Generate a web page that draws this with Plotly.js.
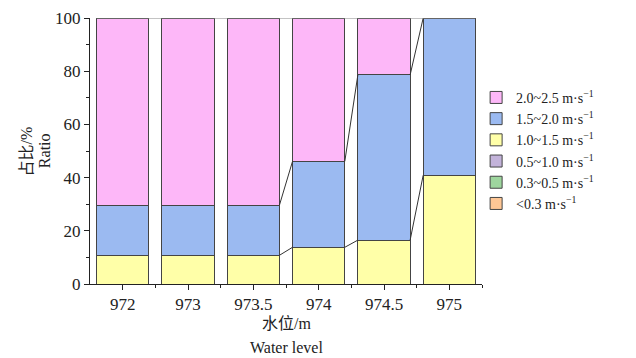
<!DOCTYPE html>
<html><head><meta charset="utf-8">
<script src="https://cdn.plot.ly/plotly-3.0.1.min.js"></script>
<style>body{margin:0;background:#fff}#c{width:636px;height:358px}</style>
</head><body><div id="c"></div>
<script>
const categories = ['972','973','973.5','974','974.5','975'];
const seriesNames = ['<0.3 m·s<sup>−1</sup>','0.3~0.5 m·s<sup>−1</sup>','0.5~1.0 m·s<sup>−1</sup>','1.0~1.5 m·s<sup>−1</sup>','1.5~2.0 m·s<sup>−1</sup>','2.0~2.5 m·s<sup>−1</sup>'];
const lt03   = [0,0,0,0,0,0];
const s03_05 = [0,0,0,0,0,0];
const s05_10 = [0,0,0,0,0,0];
const s10_15 = [10.8,10.8,10.8,13.8,16.5,40.9];
const s15_20 = [18.9,18.9,18.9,32.3,62.1,59.1];
const s20_25 = [70.3,70.3,70.3,53.9,21.4,0];
const colors = ['#FFC795','#9ED69E','#C3B3DA','#FFFFA8','#9BBAF1','#FDB7F8'];

const series = [lt03,s03_05,s05_10,s10_15,s15_20,s20_25];
const xi = categories.map((c,i)=>i);
const serif = "'Liberation Serif', serif";
const cjk = "'Liberation Serif', 'Noto Sans CJK SC', serif";
const traces = [];
series.forEach((vals,k)=>{
  traces.push({type:'bar', x:xi, y:vals, name:seriesNames[k], width:0.8,
    marker:{color:colors[k], line:{color:'#444', width:1}}});
});
const cum = [];
let run = categories.map(()=>0);
series.forEach(vals=>{ run = run.map((r,i)=>r+vals[i]); cum.push(run.slice()); });
cum.forEach((c,k)=>{
  if (series[k].every(v=>v===0)) return;
  for (let i=0;i<categories.length-1;i++){
    if (Math.abs(c[i]-c[i+1])>0.01){
      traces.push({type:'scatter', mode:'lines', x:[i+0.4,i+0.6], y:[c[i],c[i+1]],
        line:{color:'#333', width:1}, showlegend:false, hoverinfo:'skip'});
    }
  }
});

const layout = {
  width:636, height:358,
  margin:{l:90, r:154, t:18, b:74},
  barmode:'stack', bargap:0.2,
  paper_bgcolor:'#fff', plot_bgcolor:'#fff',
  font:{family:serif, size:16, color:'#222'},
  xaxis:{range:[-0.5,5.5], tickvals:xi, ticktext:categories, showline:true, linecolor:'#222', linewidth:1,
    ticks:'outside', ticklen:5, tickcolor:'#222', showgrid:false, zeroline:false,
    tickfont:{family:serif, size:17, color:'#222'},
    minor:{tickvals:[0.5,1.5,2.5,3.5,4.5,5.5], ticks:'outside', ticklen:3, tickcolor:'#222'}},
  yaxis:{range:[0,100], dtick:20, showline:true, linecolor:'#222', linewidth:1,
    ticks:'outside', ticklen:5, tickcolor:'#222', showgrid:false, zeroline:false,
    tickfont:{family:serif, size:17, color:'#222'},
    minor:{dtick:10, ticks:'outside', ticklen:3, tickcolor:'#222'}},
  legend:{x:0.985, y:0.76, xanchor:'left', yanchor:'top', traceorder:'reversed',
    font:{family:serif, size:14, color:'#222'}, bgcolor:'rgba(0,0,0,0)', tracegroupgap:0, itemwidth:30},
  shapes:[{type:'line', xref:'x', yref:'y', x0:-0.4, x1:5.4, y0:100, y1:100, line:{color:'#888', width:1}}],
  annotations:[
    {text:'水位/m', xref:'paper', yref:'paper', x:0.5, y:-0.148, xanchor:'center', yanchor:'middle', showarrow:false, font:{family:cjk, size:16, color:'#222'}},
    {text:'Water level', xref:'paper', yref:'paper', x:0.5, y:-0.238, xanchor:'center', yanchor:'middle', showarrow:false, font:{family:serif, size:16, color:'#222'}},
    {text:'占比/%', xref:'paper', yref:'paper', x:-0.162, y:0.50, xanchor:'center', yanchor:'middle', textangle:-90, showarrow:false, font:{family:cjk, size:16, color:'#222'}},
    {text:'Ratio', xref:'paper', yref:'paper', x:-0.117, y:0.50, xanchor:'center', yanchor:'middle', textangle:-90, showarrow:false, font:{family:serif, size:16, color:'#222'}}
  ],
  showlegend:true
};
Plotly.newPlot('c', traces, layout, {displayModeBar:false, staticPlot:true});
</script></body></html>
